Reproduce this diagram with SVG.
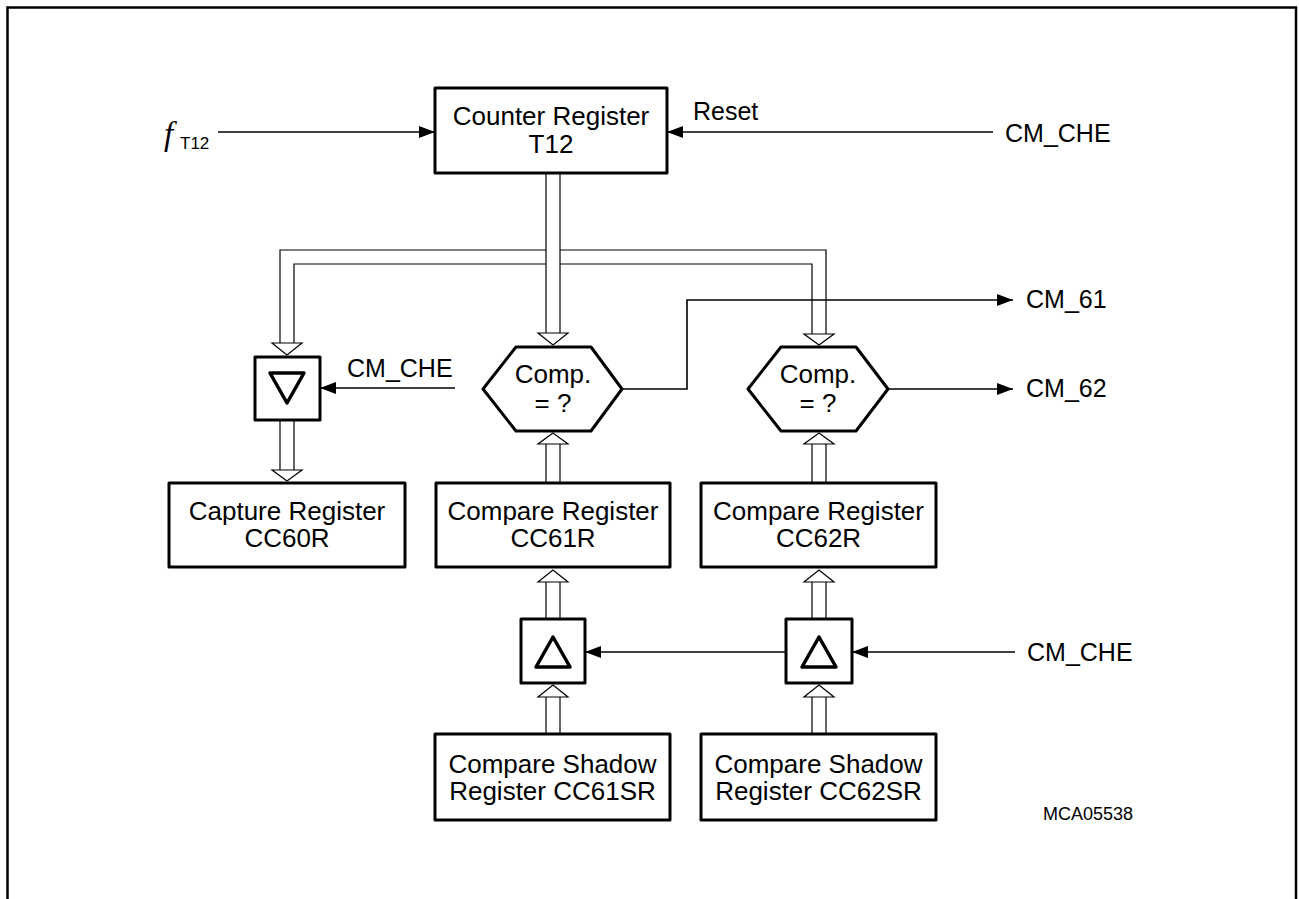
<svg xmlns="http://www.w3.org/2000/svg" width="1299" height="899" viewBox="0 0 1299 899">
<defs>
<style>
.box{fill:#fff;stroke:#000;stroke-width:3;stroke-linejoin:round}
.tri{fill:none;stroke:#000;stroke-width:3.5;stroke-linejoin:round}
.bus{fill:none;stroke:#000;stroke-width:1.2}
.bh{fill:#fff;stroke:#000;stroke-width:1.2;stroke-linejoin:miter}
.ln{fill:none;stroke:#000;stroke-width:1.6}
.t{font-family:"Liberation Sans",Arial,sans-serif;font-size:26px;fill:#000}
.l{font-family:"Liberation Sans",Arial,sans-serif;font-size:25px;fill:#000}
.c{text-anchor:middle}
</style>
<marker id="ah" viewBox="0 0 16 12" refX="16" refY="6" markerWidth="16" markerHeight="12" markerUnits="userSpaceOnUse" orient="auto">
<path d="M0,0 L16,6 L0,12 Z" fill="#000"/>
</marker>
</defs>
<rect width="1299" height="899" fill="#fff"/>
<path d="M7.5,899 V7.5 H1296 V899" fill="none" stroke="#000" stroke-width="2.5"/>

<g id="connectors">
<path class="bus" d="M546,173 V333 M560,173 V333"/>
<path class="bus" d="M546,250 H280 V343 M546,264 H294 V343"/>
<path class="bus" d="M560,250 H826 V334 M560,264 H812 V334"/>
<polygon class="bh" points="280,343 272,343 287,355 302,343 294,343"/>
<polygon class="bh" points="546,333 538,333 553,345 568,333 560,333"/>
<polygon class="bh" points="812,334 804,334 819,345 834,334 826,334"/>
<path class="bus" d="M280,420 V470 M294,420 V470"/>
<polygon class="bh" points="280,470 272,470 287,481 302,470 294,470"/>
<path class="bus" d="M546,483 V444 M560,483 V444"/>
<polygon class="bh" points="546,444 538,444 553,433 568,444 560,444"/>
<path class="bus" d="M546,619 V582 M560,619 V582"/>
<polygon class="bh" points="546,582 538,582 553,570 568,582 560,582"/>
<path class="bus" d="M546,734 V697 M560,734 V697"/>
<polygon class="bh" points="546,697 538,697 553,685 568,697 560,697"/>
<path class="bus" d="M812,483 V444 M826,483 V444"/>
<polygon class="bh" points="812,444 804,444 819,433 834,444 826,444"/>
<path class="bus" d="M812,619 V582 M826,619 V582"/>
<polygon class="bh" points="812,582 804,582 819,570 834,582 826,582"/>
<path class="bus" d="M812,734 V697 M826,734 V697"/>
<polygon class="bh" points="812,697 804,697 819,685 834,697 826,697"/>
<path class="ln" d="M218,132 H435" marker-end="url(#ah)"/>
<path class="ln" d="M993,132 H667" marker-end="url(#ah)"/>
<path class="ln" d="M455,388 H320" marker-end="url(#ah)"/>
<path class="ln" d="M622,389 H687 V300 H1013" marker-end="url(#ah)"/>
<path class="ln" d="M888,389 H1013" marker-end="url(#ah)"/>
<path class="ln" d="M1015,652 H852" marker-end="url(#ah)"/>
<path class="ln" d="M786,652 H585" marker-end="url(#ah)"/>
</g>

<g id="counter">
<rect class="box" x="435" y="88" width="232" height="85"/>
<text class="t c" x="551" y="125">Counter Register</text>
<text class="t c" x="551" y="153">T12</text>
</g>

<g id="ftin">
<text x="164" y="145" font-family="'Liberation Serif','Times New Roman',serif" font-style="italic" font-size="33">f</text>
<text x="180" y="149" font-family="'Liberation Sans',Arial,sans-serif" font-size="17">T12</text>
</g>

<g id="labels">
<text class="l" x="693" y="120">Reset</text>
<text class="l" x="1005" y="142">CM_CHE</text>
<text class="l" x="347" y="377">CM_CHE</text>
<text class="l" x="1026" y="308">CM_61</text>
<text class="l" x="1026" y="397">CM_62</text>
<text class="l" x="1027" y="661">CM_CHE</text>
<text x="1043" y="820" font-family="'Liberation Sans',Arial,sans-serif" font-size="18">MCA05538</text>
</g>

<g id="latch60">
<rect class="box" x="255" y="357" width="65" height="63"/>
<polygon class="tri" points="270,373 304,373 287,403"/>
</g>

<g id="comp61">
<polygon class="box" points="483,389 516,347 591,347 622,389 591,431 516,431"/>
<text class="t c" x="553" y="383">Comp.</text>
<text class="t c" x="553" y="412">= ?</text>
</g>

<g id="comp62">
<polygon class="box" points="748,389 781,347 856,347 888,389 856,431 781,431"/>
<text class="t c" x="818" y="383">Comp.</text>
<text class="t c" x="818" y="412">= ?</text>
</g>

<g id="cc60r">
<rect class="box" x="169" y="483" width="236" height="84"/>
<text class="t c" x="287" y="520">Capture Register</text>
<text class="t c" x="287" y="547">CC60R</text>
</g>

<g id="cc61r">
<rect class="box" x="436" y="483" width="234" height="84"/>
<text class="t c" x="553" y="520">Compare Register</text>
<text class="t c" x="553" y="547">CC61R</text>
</g>

<g id="cc62r">
<rect class="box" x="701" y="483" width="235" height="84"/>
<text class="t c" x="818.5" y="520">Compare Register</text>
<text class="t c" x="818.5" y="547">CC62R</text>
</g>

<g id="latch61">
<rect class="box" x="521" y="619" width="64" height="64"/>
<polygon class="tri" points="536,667 570,667 553,637"/>
</g>

<g id="latch62">
<rect class="box" x="786" y="619" width="66" height="64"/>
<polygon class="tri" points="802,667 836,667 819,637"/>
</g>

<g id="cc61sr">
<rect class="box" x="435" y="734" width="235" height="86"/>
<text class="t c" x="552.5" y="773">Compare Shadow</text>
<text class="t c" x="552.5" y="800">Register CC61SR</text>
</g>

<g id="cc62sr">
<rect class="box" x="701" y="734" width="235" height="86"/>
<text class="t c" x="818.5" y="773">Compare Shadow</text>
<text class="t c" x="818.5" y="800">Register CC62SR</text>
</g>
</svg>
